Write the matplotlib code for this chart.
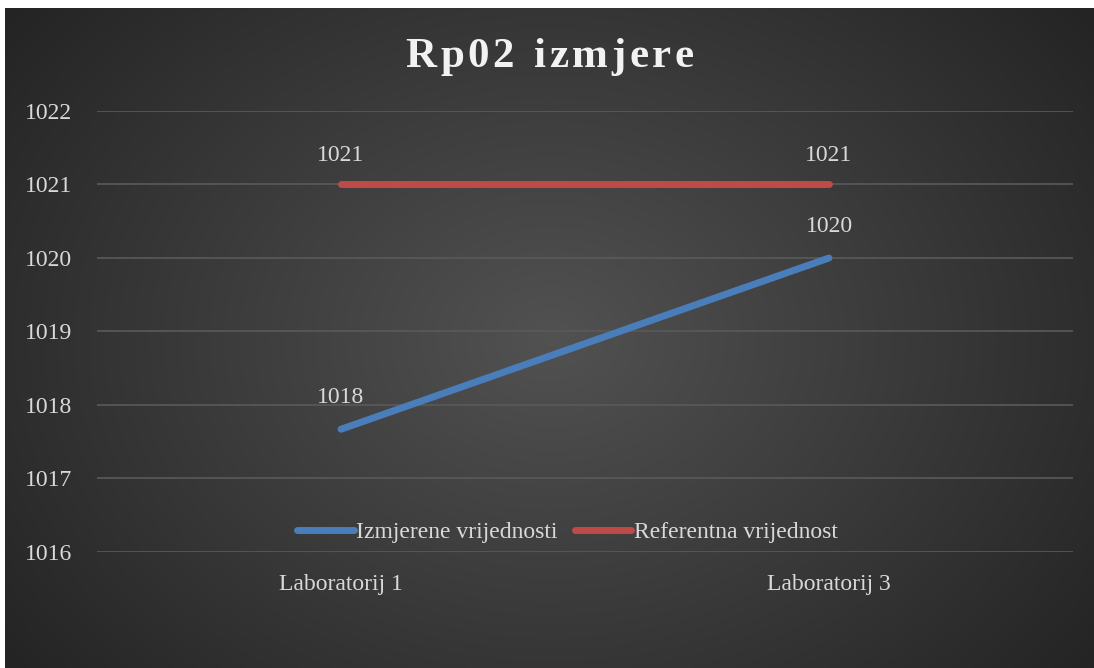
import numpy as np
import matplotlib
matplotlib.use('Agg')
import matplotlib.pyplot as plt

# data
categories = ["Laboratorij 1", "Laboratorij 3"]
measured = [1017.67, 1020.0]
reference = [1021.0, 1021.0]
series_names = ["Izmjerene vrijednosti", "Referentna vrijednost"]
title = "Rp02 izmjere"

W, H = 1094, 668
fig = plt.figure(figsize=(W / 100, H / 100), dpi=100)
fig.patch.set_facecolor('white')

# radial gradient background (dark area starts a few px in from top-left)
x0, y0 = 5 / W, 8 / H
bg = fig.add_axes([x0, 0, 1 - x0, 1 - y0])
bg.set_axis_off()
yy, xx = np.mgrid[0:300, 0:500]
cx, cy = 250, 150
r = np.sqrt(((xx - cx) / 300.0) ** 2 + ((yy - cy) / 230.0) ** 2)
shade = np.clip(0.32 - 0.17 * r, 0.14, 0.32)
bg.imshow(np.dstack([shade] * 3), aspect='auto', extent=[0, 1, 0, 1])
bg.set_xlim(0, 1)
bg.set_ylim(0, 1)

# plot area: x 97..1073, y 111 (1022) .. 552 (1016)
left, right = 97 / W, 1073 / W
top, bottom = 111 / H, 552 / H
ax = fig.add_axes([left, 1 - bottom, right - left, bottom - top])
ax.set_facecolor('none')
ax.set_xlim(-0.5, 1.5)
ax.set_ylim(1016, 1022)

serif = ['Liberation Serif', 'DejaVu Serif']
txt = '#d9d9d9'
fs = 17

for v in range(1016, 1023):
    ax.axhline(v, color='#5a5a5a', lw=1.2, zorder=1)

x = np.arange(len(categories))
ax.plot(x, measured, color='#4a7ebb', lw=5, solid_capstyle='round', zorder=3,
        label=series_names[0])
ax.plot(x, reference, color='#be4b48', lw=5, solid_capstyle='round', zorder=3,
        label=series_names[1])

for xi, v in zip(x, measured):
    ax.annotate(f"{v:.0f}", (xi, v), xytext=(0, 23), textcoords='offset points',
                ha='center', va='center', color=txt, fontsize=fs, family=serif)
for xi, v in zip(x, reference):
    ax.annotate(f"{v:.0f}", (xi, v), xytext=(0, 21), textcoords='offset points',
                ha='center', va='center', color=txt, fontsize=fs, family=serif)

for s in ax.spines.values():
    s.set_visible(False)
ax.tick_params(length=0)
ax.set_yticks(range(1016, 1023))
ax.set_yticklabels([str(v) for v in range(1016, 1023)], color=txt,
                   fontsize=fs, family=serif)
for lab in ax.get_yticklabels():
    lab.set_horizontalalignment('left')
ax.tick_params(axis='y', pad=52)
ax.set_xticks(x)
ax.set_xticklabels(categories, color=txt, fontsize=fs, family=serif)
ax.tick_params(axis='x', pad=16)

leg = ax.legend(loc='center', bbox_to_anchor=(0.482, 0.045), ncol=2,
                frameon=False, handlelength=2.4, handletextpad=0.1,
                columnspacing=0.7, prop={'family': serif, 'size': fs})
for t in leg.get_texts():
    t.set_color(txt)

# title with extra letter spacing, drawn char by char
renderer = fig.canvas.get_renderer()
tkw = dict(color='#f2f2f2', fontsize=31, fontweight='bold', family=serif,
           va='center', ha='left')
widths = []
for ch in title:
    t = fig.text(0, 0, ch if ch != ' ' else 'n', **tkw)
    widths.append(t.get_window_extent(renderer).width * (0.55 if ch == ' ' else 1))
    t.remove()
spacing = 3.5
total = sum(widths) + spacing * (len(title) - 1)
xpos = (W + 5) / 2 - total / 2
for ch, w in zip(title, widths):
    if ch != ' ':
        fig.text(xpos / W, 1 - 57 / H, ch, **tkw)
    xpos += w + spacing

fig.savefig('out.png', dpi=100, facecolor=fig.get_facecolor())
